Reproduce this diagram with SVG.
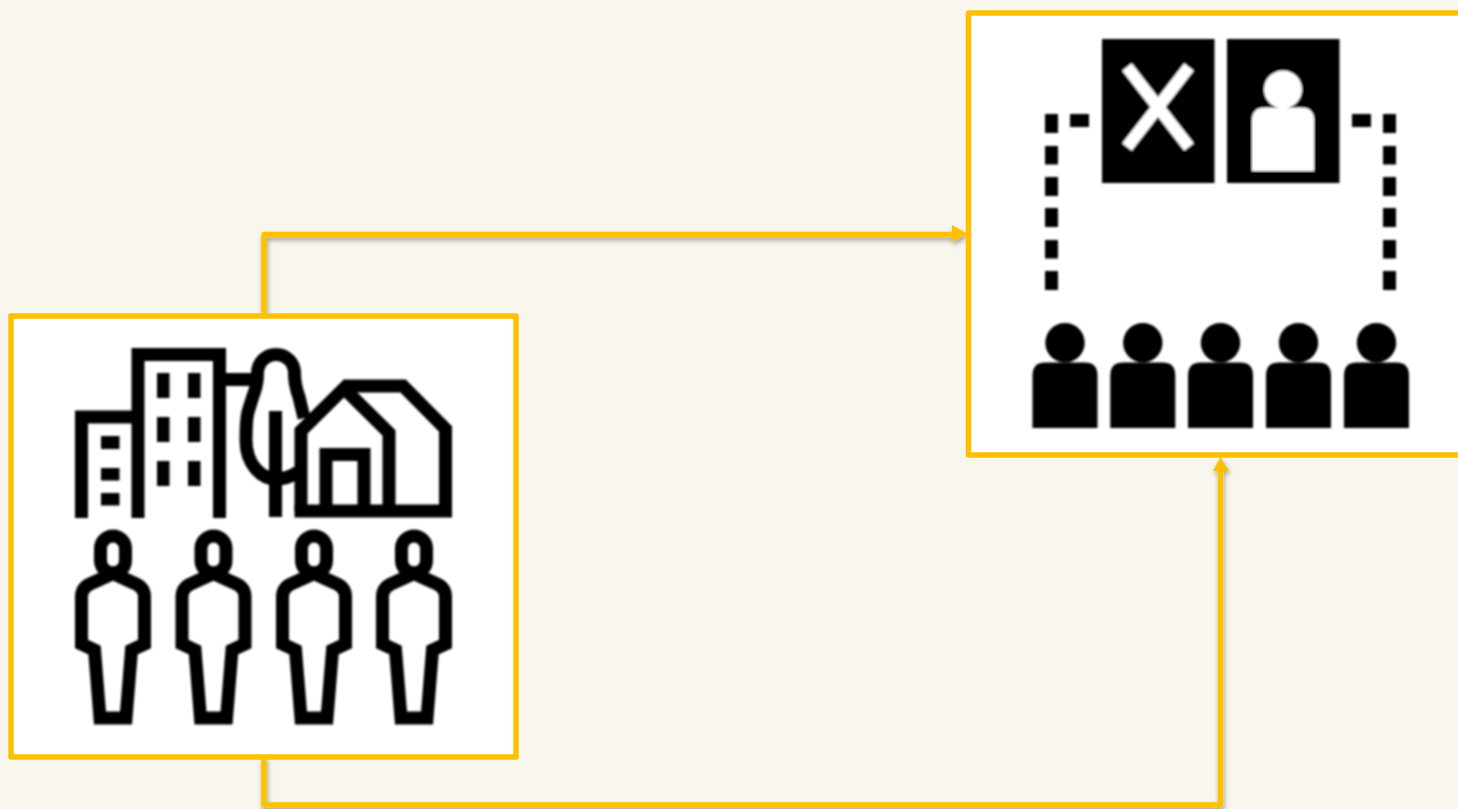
<svg xmlns="http://www.w3.org/2000/svg" xmlns:xlink="http://www.w3.org/1999/xlink" width="1458" height="809" viewBox="0 0 1458 809">
<style>
.frame{fill:#fff;stroke:#FFC000;stroke-width:5.5;stroke-linejoin:round}
.conn{fill:none;stroke:#FFC000;stroke-width:5.5;stroke-linejoin:round}
.head{fill:#FFC000}
.line{fill:none;stroke:#000;stroke-width:13;stroke-linejoin:miter}
.k{fill:#000}
.w{fill:#fff}
.icon{filter:url(#soft)}
</style>
<defs>
<filter id="soft" x="-5%" y="-5%" width="110%" height="110%"><feGaussianBlur stdDeviation="0.8"/></filter>
<filter id="shadow" x="-5%" y="-5%" width="110%" height="110%"><feDropShadow dx="1" dy="3" stdDeviation="2.5" flood-color="#000" flood-opacity="0.35"/></filter>
<g id="walker">
<rect class="line" x="-12.500" y="6" width="25" height="37" rx="12.500" ry="12.500"/>
<path class="line" d="M0,43.500 L-23,54 Q-31.500,58 -31.500,67 V114 L-18.500,120 L-13,188 H13 L18.500,120 L31.500,114 V67 Q31.500,58 23,54 Z"/>
</g>
<g id="sitter"><circle cx="32.500" cy="-19.800" r="19.700"/><path d="M0,65.500 V13 Q0,0 13,0 H52 Q65,0 65,13 V65.500 Z"/></g>
</defs>
<rect width="1458" height="809" fill="#F9F6EE"/>
<g id="connectors" filter="url(#shadow)">
<path class="conn" d="M264,316 V234.500 H954"/>
<path class="head" d="M952,225 L968,234 L952,242 Z"/>
<path class="conn" d="M264,757 V805 H1220.500 V470"/>
<path class="head" d="M1213,471 L1220.500,457 L1229,471 Z"/>
</g>
<g id="node-community">
<rect class="frame" x="11" y="316" width="505" height="441"/>
<g class="icon">
<path class="line" d="M81.500,518 V417 H138"/>
<path class="line" d="M138,518 V354.500 H219.500 V518"/>
<path class="line" d="M226,379.500 H256"/>
<rect class="k" x="157" y="373" width="12.500" height="25"/><rect class="k" x="188" y="373" width="12.500" height="25"/>
<rect class="k" x="157" y="417" width="12.500" height="25"/><rect class="k" x="188" y="417" width="12.500" height="25"/>
<rect class="k" x="157" y="461" width="12.500" height="25"/><rect class="k" x="188" y="461" width="12.500" height="25"/>
<rect class="k" x="101" y="436" width="18.500" height="13"/><rect class="k" x="101" y="468" width="18.500" height="12.500"/><rect class="k" x="101" y="493" width="18.500" height="12.500"/>
<path class="line" d="M304,418 L299,397 Q294.500,385 294.500,373 A18.500,18.500 0 0 0 257.500,373 Q257.500,385 253,396 L248,412 Q246,420 246,440 C246,465 262,479 276,479 C 285,479 292,476 298,472"/>
<path class="line" d="M275.500,411 V517"/>
<path class="line" d="M301,511 V431 L344,388.500 L389,433 V511"/>
<path class="line" d="M344,386 H403 L445.500,429 V511 H294.500"/>
<path class="line" d="M326,511 V454.500 H364 V511"/>
<use xlink:href="#walker" href="#walker" x="113" y="530"/>
<use xlink:href="#walker" href="#walker" x="213.500" y="530"/>
<use xlink:href="#walker" href="#walker" x="314" y="530"/>
<use xlink:href="#walker" href="#walker" x="414" y="530"/>
</g>
</g>
<g id="node-polling">
<rect class="frame" x="968.500" y="13" width="495" height="442"/>
<g class="icon">
<rect class="k" x="1102" y="39" width="112.500" height="144"/>
<rect class="k" x="1227" y="39" width="112.500" height="144"/>
<path d="M1127,67 L1189,147 M1189,67 L1127,147" fill="none" stroke="#fff" stroke-width="12"/>
<circle class="w" cx="1283" cy="89.500" r="19"/>
<path class="w" d="M1252,171 V120 Q1252,107.500 1265,107.500 H1301 Q1314,107.500 1314,120 V171 Z"/>
<rect class="k" x="1045" y="114" width="13" height="19"/><rect class="k" x="1045" y="146" width="13" height="18.500"/><rect class="k" x="1045" y="177" width="13" height="19"/><rect class="k" x="1045" y="208" width="13" height="19"/><rect class="k" x="1045" y="240" width="13" height="18.500"/><rect class="k" x="1045" y="271" width="13" height="19"/>
<rect class="k" x="1383" y="114" width="13" height="19"/><rect class="k" x="1383" y="146" width="13" height="18.500"/><rect class="k" x="1383" y="177" width="13" height="19"/><rect class="k" x="1383" y="208" width="13" height="19"/><rect class="k" x="1383" y="240" width="13" height="18.500"/><rect class="k" x="1383" y="271" width="13" height="19"/>
<rect class="k" x="1070" y="114" width="19" height="13"/>
<rect class="k" x="1352" y="114" width="19" height="13"/>
<use xlink:href="#sitter" href="#sitter" x="1032.500" y="362.500"/>
<use xlink:href="#sitter" href="#sitter" x="1110.300" y="362.500"/>
<use xlink:href="#sitter" href="#sitter" x="1188" y="362.500"/>
<use xlink:href="#sitter" href="#sitter" x="1266" y="362.500"/>
<use xlink:href="#sitter" href="#sitter" x="1344" y="362.500"/>
</g>
</g>
</svg>
